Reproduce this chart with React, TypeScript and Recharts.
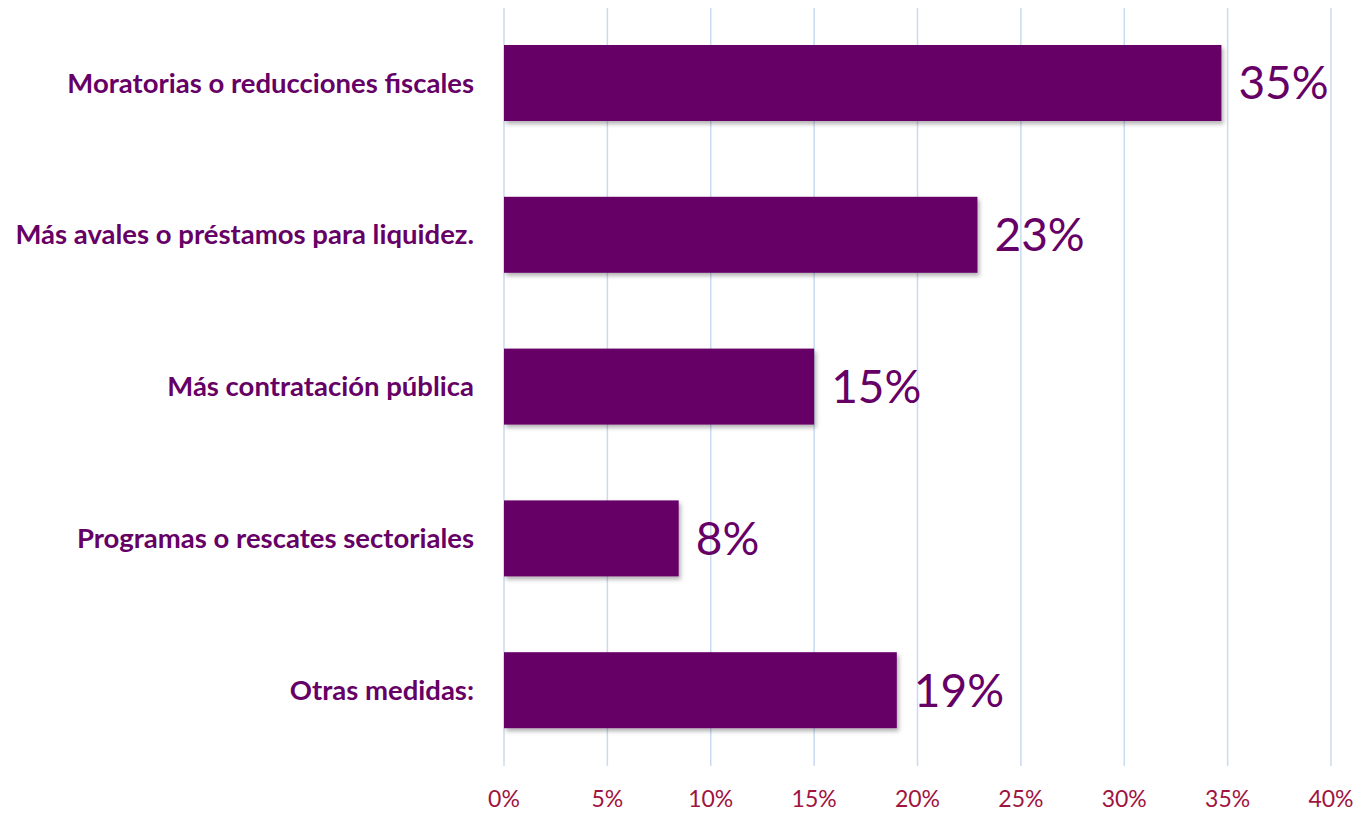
import { BarChart, Bar, XAxis, YAxis, CartesianGrid, LabelList } from 'recharts';

const categories = [
  'Moratorias o reducciones fiscales',
  'Más avales o préstamos para liquidez.',
  'Más contratación pública',
  'Programas o rescates sectoriales',
  'Otras medidas:',
];
const values = [34.7, 22.9, 15.0, 8.45, 19.0];
const xTicks = [0, 5, 10, 15, 20, 25, 30, 35, 40];

const data = categories.map((name, i) => ({ name, value: values[i] }));

const PURPLE = '#660066';
const FONT = 'Lato, "Open Sans", sans-serif';

const ShadowBar = (props: any) => {
  const { x, y, width, height } = props;
  return <rect x={x} y={y} width={width} height={height} fill={PURPLE} filter="url(#barShadow)" />;
};

export default function App() {
  return (
    <div style={{ margin: '-8px 0 0 -8px', width: 1361, height: 813, background: '#fff' }}>
      <svg width={0} height={0} style={{ position: 'absolute' }}>
        <defs>
          <filter id="barShadow" x="-10%" y="-10%" width="130%" height="140%">
            <feDropShadow dx={2} dy={3} stdDeviation={2} floodColor="#000" floodOpacity={0.3} />
          </filter>
        </defs>
      </svg>
      <BarChart
        width={1361}
        height={813}
        data={data}
        layout="vertical"
        margin={{ top: 7, right: 30, bottom: 0, left: 0 }}
        barCategoryGap={38}
      >
        <CartesianGrid horizontal={false} stroke="#C9DBF1" strokeWidth={1.5} />
        <XAxis
          type="number"
          domain={[0, 40]}
          ticks={xTicks}
          tickFormatter={(v) => `${v}%`}
          axisLine={false}
          tickLine={false}
          height={47}
          tickMargin={19}
          tick={{ fill: '#A0143F', fontSize: 23, fontFamily: FONT }}
        />
        <YAxis
          type="category"
          dataKey="name"
          width={504}
          axisLine={false}
          tickLine={false}
          tickMargin={24}
          tick={{ fill: PURPLE, fontSize: 27.5, fontWeight: 700, fontFamily: FONT }}
        />
        <Bar dataKey="value" fill={PURPLE} shape={ShadowBar} isAnimationActive={false}>
          <LabelList
            dataKey="value"
            position="right"
            offset={17}
            formatter={(v: any) => `${Math.round(Number(v))}%`}
            style={{ fill: PURPLE, fontSize: 46, fontFamily: FONT }}
          />
        </Bar>
      </BarChart>
    </div>
  );
}
